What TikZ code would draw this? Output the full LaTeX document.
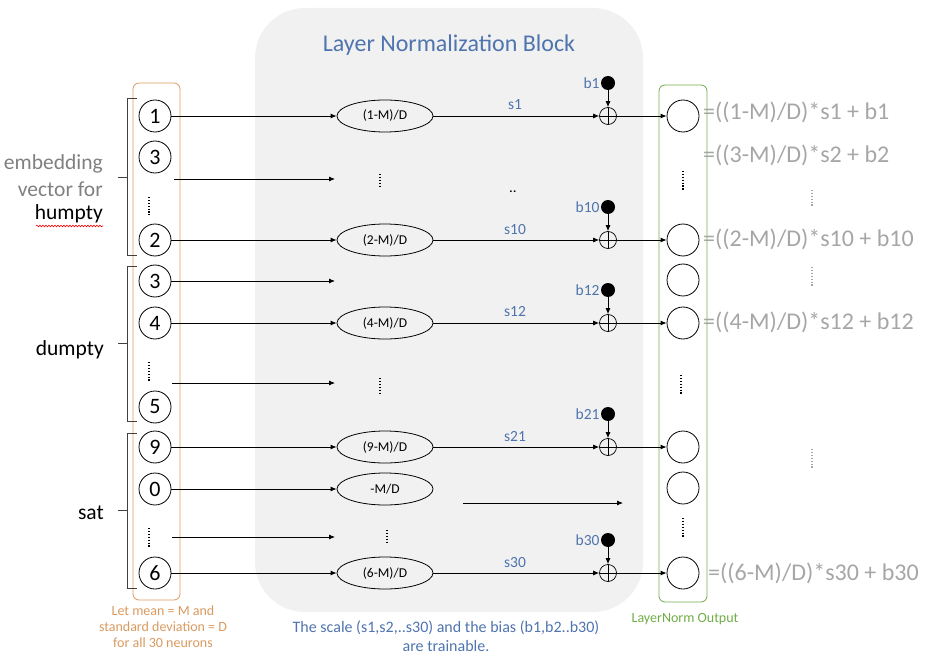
\documentclass[tikz,border=0pt]{standalone}
\usepackage{fontspec}
\setmainfont{Carlito}
\usetikzlibrary{arrows.meta,shapes.geometric,decorations.pathmorphing}
\definecolor{blkfill}{HTML}{F1F1F1}
\definecolor{ttlblue}{HTML}{4F74AE}
\definecolor{orng}{HTML}{D99A60}
\definecolor{grn}{HTML}{70AD47}
\definecolor{fgray}{HTML}{A6A6A6}
\definecolor{egray}{HTML}{808080}
\definecolor{brk}{HTML}{404040}
\begin{document}
\begin{tikzpicture}[x=1pt,y=-1pt,
  fs/.style={font=\fontsize{#1}{#1}\selectfont},
  neuron/.style={circle,draw,line width=0.8pt,minimum size=32pt,inner sep=0pt,fs=22},
  normell/.style={ellipse,draw,line width=0.8pt,minimum width=96pt,minimum height=32pt,inner sep=0pt,fs=13.5},
  plusnode/.style={circle,draw,line width=0.7pt,minimum size=17pt,inner sep=0pt,
    path picture={\draw[line width=0.7pt] (path picture bounding box.north) -- (path picture bounding box.south)
      (path picture bounding box.west) -- (path picture bounding box.east);}},
  biasdot/.style={circle,fill=black,minimum size=14pt,inner sep=0pt},
  conn/.style={line width=0.8pt,-{Latex[length=6pt,width=5pt]}},
  vdots/.style={line width=1.8pt,dash pattern=on 1.3pt off 1.6pt},
  brack/.style={draw=brk,line width=1pt},
  slab/.style={text=ttlblue,fs=15.5,inner sep=0pt},
  blab/.style={text=ttlblue,fs=15.5,inner sep=1pt},
  formula/.style={text=fgray,fs=24,anchor=west,inner sep=0pt}
]
\useasboundingbox (0,0) rectangle (927,658);

% block
\node[fill=blkfill,rounded corners=50pt,minimum width=388pt,minimum height=604pt,inner sep=0pt] (block) at (449,310) {};
\node[text=ttlblue,fs=24] (title) at (449,45) {Layer Normalization Block};

% input box
\node[draw=orng,line width=0.8pt,rounded corners=6pt,minimum width=47pt,minimum height=517pt,inner sep=0pt] (inbox) at (156.5,341.5) {};
% output box
\node[draw=grn,line width=0.8pt,rounded corners=6pt,minimum width=48pt,minimum height=517pt,inner sep=0pt] (outbox) at (683,343.5) {};

% input neurons
\node[neuron] (i1) at (155,116) {1};
\node[neuron] (i3) at (155,157) {3};
\node[neuron] (i2) at (155,240) {2};
\node[neuron] (i3b) at (155,281) {3};
\node[neuron] (i4) at (155,323) {4};
\node[neuron] (i5) at (155,407) {5};
\node[neuron] (i9) at (155,447) {9};
\node[neuron] (i0) at (155,489) {0};
\node[neuron] (i6) at (155,573) {6};
\draw[vdots] (149,197) -- (149,215);
\draw[vdots] (149,362) -- (149,381);
\draw[vdots] (149,528) -- (149,547);

% brackets
\draw[brack] (137,99) -- (127,99) -- (127,255) -- (137,255) (127,178) -- (118,178);
\draw[brack] (137,266) -- (127,266) -- (127,421) -- (137,421) (127,343) -- (118,343);
\draw[brack] (137,433) -- (127,433) -- (127,588) -- (137,588) (127,510) -- (118,510);

% left labels
\node[fs=21.5,text=egray,anchor=east,inner sep=0pt] (emb1) at (103,164) {embedding};
\node[fs=21.5,text=egray,anchor=east,inner sep=0pt] (emb2) at (103,189) {vector for};
\node[fs=21.5,anchor=east,inner sep=0pt] (humpty) at (103,214) {humpty};
\draw[red,line width=0.6pt,decorate,decoration={snake,amplitude=0.8pt,segment length=3pt}] (36,226) -- (103,226);
\node[fs=21.5,anchor=east,inner sep=0pt] (dumpty) at (104,350) {dumpty};
\node[fs=21.5,anchor=east,inner sep=0pt] (sat) at (104,513) {sat};

% ellipses
\node[normell] (e1) at (385,116) {(1-M)/D};
\node[normell] (e2) at (385,240) {(2-M)/D};
\node[normell] (e4) at (385,323) {(4-M)/D};
\node[normell] (e9) at (385,447) {(9-M)/D};
\node[normell] (e0) at (385,489) {-M/D};
\node[normell] (e6) at (385,573) {(6-M)/D};
\draw[vdots] (380,174) -- (380,188);
\draw[vdots] (380,378) -- (380,393);
\draw[vdots] (387,530) -- (387,544);
\node[fs=15,inner sep=0pt] (dd) at (513,192) {..};

% free coordinates
\coordinate (sa) at (174,179); \coordinate (ta) at (335,179);
\coordinate (tb) at (335,281);
\coordinate (sc) at (172,383); \coordinate (tc) at (335,383);
\coordinate (sd) at (172,537); \coordinate (td) at (335,537);
\coordinate (se) at (463,503); \coordinate (te) at (623,503);

% input arrows
\draw[conn] (i1) -- (e1);
\draw[conn] (sa) -- (ta);
\draw[conn] (i2) -- (e2);
\draw[conn] (i3b) -- (tb);
\draw[conn] (i4) -- (e4);
\draw[conn] (sc) -- (tc);
\draw[conn] (i9) -- (e9);
\draw[conn] (i0) -- (e0);
\draw[conn] (sd) -- (td);
\draw[conn] (i6) -- (e6);
\draw[conn] (se) -- (te);

% plus nodes and biases
\foreach \n/\y/\b in {p1/116/b1, p10/240/b10, p12/323/b12, p21/447/b21, p30/573/b30}{
  \node[plusnode] (\n) at (608,\y) {};
  \node[biasdot] (bd\n) at (608,\y-33) {};
  \node[blab,anchor=east] (bl\n) at (bd\n.west) {\b};
  \draw[conn] (bd\n) -- (\n);
}
\draw[conn] (e1) -- (p1);
\draw[conn] (e2) -- (p10);
\draw[conn] (e4) -- (p12);
\draw[conn] (e9) -- (p21);
\draw[conn] (e6) -- (p30);
\node[slab] (s1) at (515,105) {s1};
\node[slab] (s10) at (515,230) {s10};
\node[slab] (s12) at (515,312) {s12};
\node[slab] (s21) at (515,437) {s21};
\node[slab] (s30) at (515,563) {s30};

% output neurons
\node[neuron] (o1) at (683,116) {};
\node[neuron] (o2) at (683,240) {};
\node[neuron] (o3) at (683,280) {};
\node[neuron] (o4) at (683,323) {};
\node[neuron] (o9) at (683,447) {};
\node[neuron] (o0) at (683,488) {};
\node[neuron] (o6) at (683,573) {};
\draw[vdots] (683,171) -- (683,190);
\draw[vdots] (681,375) -- (681,395);
\draw[vdots] (683,518) -- (683,538);
\draw[conn] (p1) -- (o1);
\draw[conn] (p10) -- (o2);
\draw[conn] (p12) -- (o4);
\draw[conn] (p21) -- (o9);
\draw[conn] (p30) -- (o6);

% formulas
\node[formula] (f1) at (703,112) {=((1-M)/D)*s1 + b1};
\node[formula] (f2) at (703,155) {=((3-M)/D)*s2 + b2};
\node[formula] (f3) at (703,239) {=((2-M)/D)*s10 + b10};
\node[formula] (f4) at (703,322) {=((4-M)/D)*s12 + b12};
\node[formula] (f5) at (708,573) {=((6-M)/D)*s30 + b30};
\draw[vdots,fgray,line width=1.4pt] (812,190) -- (812,207);
\draw[vdots,fgray,line width=1.4pt] (812,267) -- (812,287);
\draw[vdots,fgray,line width=1.4pt] (812,449) -- (812,468);

% bottom captions
\node[text=orng,fs=14,align=center,inner sep=0pt] (cap1) at (163,627) {Let mean = M and\\[2pt]standard deviation = D\\[2pt]for all 30 neurons};
\node[text=ttlblue,fs=16,align=center,inner sep=0pt] (cap2) at (446,636) {The scale (s1,s2,..s30) and the bias (b1,b2..b30)\\[3pt]are trainable.};
\node[text=grn,fs=14,inner sep=0pt] (cap3) at (685,619) {LayerNorm Output};
\end{tikzpicture}
\end{document}
